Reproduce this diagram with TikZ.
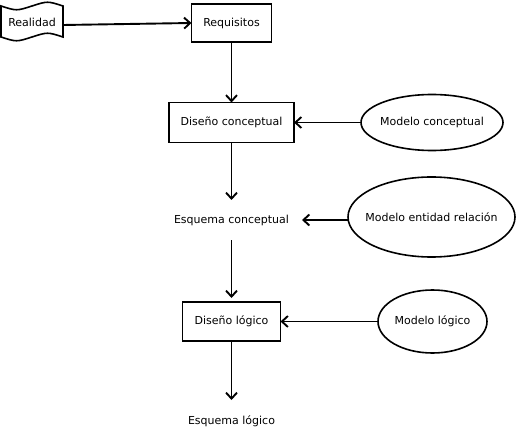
\documentclass[tikz,border=0pt]{standalone}
\usepackage{fontspec}
\setmainfont{DejaVu Sans}
\usetikzlibrary{arrows.meta,shapes.geometric}
\begin{document}
\begin{tikzpicture}[x=1bp,y=-1bp,
  font=\fontsize{11bp}{13bp}\selectfont,
  every node/.style={inner sep=0pt, outer sep=0pt},
  boxnode/.style={draw, line width=1.9bp, rectangle},
  ovalnode/.style={draw, line width=1.6bp, ellipse},
  plaintext/.style={minimum height=40bp, inner xsep=13bp},
  conn/.style={line width=1.9bp, -{Straight Barb[length=6bp,width=11bp]}}]
\useasboundingbox (0,0) rectangle (517,441);
% Realidad tape shape
\draw[line width=1.6bp] (1,6) .. controls (16.5,11) .. (32,6) .. controls (47.5,1) .. (63,6)
  -- (63,37) .. controls (47.5,32) .. (32,37) .. controls (16.5,42) .. (1,37) -- cycle;
\node[minimum width=62bp, minimum height=32bp] (real) at (32,22) {Realidad};
\node[boxnode, minimum width=80bp, minimum height=38bp] (req) at (231.5,23) {Requisitos};
\node[boxnode, minimum width=125bp, minimum height=40bp] (dc) at (231.5,122.5) {Diseño conceptual};
\node[ovalnode, minimum width=142bp, minimum height=56bp] (mc) at (432,122.5) {\makebox[0pt]{Modelo conceptual}};
\node[plaintext] (ec) at (231.5,220) {Esquema conceptual};
\node[ovalnode, minimum width=167bp, minimum height=80bp] (mer) at (431.5,217) {\makebox[0pt]{Modelo entidad relación}};
\node[boxnode, minimum width=98bp, minimum height=39bp] (dl) at (231.5,321.5) {Diseño lógico};
\node[ovalnode, minimum width=109bp, minimum height=63bp] (ml) at (432.5,321.5) {\makebox[0pt]{Modelo lógico}};
\node[plaintext, minimum height=42bp] (el) at (231.5,421) {Esquema lógico};
% connectors
\draw[conn] ([yshift=-3bp]real.east) -- (req.west);
\draw[conn] (req.south) -- (dc.north);
\draw[conn] (mc.west) -- (dc.east);
\draw[conn] (dc.south) -- (ec.north);
\draw[conn] ([yshift=-3bp]mer.west) -- (ec.east);
\draw[conn] (ec.south) -- ([yshift=4bp]dl.north);
\draw[conn] (ml.west) -- (dl.east);
\draw[conn] (dl.south) -- (el.north);
\end{tikzpicture}
\end{document}
